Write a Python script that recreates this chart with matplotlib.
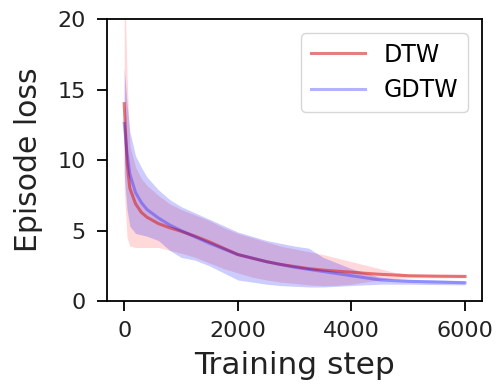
import matplotlib
matplotlib.use("Agg")
import matplotlib.pyplot as plt

steps = [0, 50, 100, 200, 300, 400, 600, 800, 1000, 1250, 1500, 1750, 2000, 2250,
         2500, 2750, 3000, 3250, 3500, 3750, 4000, 4250, 4500, 4750, 5000, 5500, 6000]

dtw_mean = [14.0, 9.8, 8.0, 6.9, 6.3, 5.95, 5.5, 5.2, 4.95, 4.6, 4.2, 3.75, 3.3, 3.05,
            2.8, 2.6, 2.45, 2.3, 2.2, 2.12, 2.05, 1.97, 1.9, 1.85, 1.8, 1.77, 1.75]
dtw_low = [8.0, 4.5, 3.9, 3.8, 3.8, 3.8, 3.8, 3.6, 3.4, 3.1, 2.7, 2.3, 2.0, 1.7,
           1.5, 1.35, 1.25, 1.15, 1.1, 1.12, 1.2, 1.35, 1.5, 1.6, 1.65, 1.65, 1.65]
dtw_high = [24.0, 16.0, 11.0, 9.5, 8.7, 8.2, 7.5, 6.9, 6.5, 6.1, 5.7, 5.2, 4.8, 4.5,
            4.2, 3.9, 3.7, 3.5, 3.3, 3.05, 2.8, 2.55, 2.3, 2.05, 1.9, 1.87, 1.85]

gdtw_mean = [12.6, 10.5, 9.0, 7.7, 7.0, 6.5, 5.9, 5.4, 5.0, 4.55, 4.1, 3.7, 3.3, 3.05,
             2.8, 2.6, 2.4, 2.25, 2.1, 1.95, 1.8, 1.65, 1.5, 1.45, 1.4, 1.35, 1.3]
gdtw_low = [9.0, 6.5, 5.3, 4.8, 4.7, 4.6, 4.3, 3.6, 3.1, 2.9, 2.5, 2.0, 1.5, 1.35,
            1.2, 1.1, 1.05, 1.0, 1.0, 1.05, 1.1, 1.15, 1.2, 1.2, 1.2, 1.17, 1.15]
gdtw_high = [16.5, 14.0, 12.0, 10.3, 9.5, 8.8, 7.9, 7.2, 6.7, 6.25, 5.8, 5.35, 4.9, 4.6,
             4.3, 4.1, 3.9, 3.75, 3.1, 2.7, 2.3, 2.0, 1.7, 1.6, 1.55, 1.5, 1.45]

fig = plt.figure(figsize=(4.96, 3.88), dpi=100)
ax = fig.add_axes([0.216, 0.224, 0.756, 0.727])

ax.fill_between(steps, dtw_low, dtw_high, color="red", alpha=0.15, linewidth=0)
ax.fill_between(steps, gdtw_low, gdtw_high, color="blue", alpha=0.2, linewidth=0)
ax.plot(steps, dtw_mean, color="tab:red", alpha=0.6, linewidth=2.2, label="DTW")
ax.plot(steps, gdtw_mean, color="blue", alpha=0.3, linewidth=2.2, label="GDTW")

ax.set_ylim(0, 20)
ax.set_yticks([0, 5, 10, 15, 20])
ax.set_xticks([0, 2000, 4000, 6000])
for s in ax.spines.values():
    s.set_linewidth(1.3)
ax.tick_params(labelsize=16, length=7, width=1.3, labelcolor="#222222")
ax.tick_params(axis="x", pad=7.5)
ax.tick_params(axis="y", pad=8.5)
ax.set_xlabel("Training step", fontsize=22.5, color="#222222", labelpad=7)
ax.set_ylabel("Episode loss", fontsize=21.5, color="#222222", labelpad=10)
ax.legend(loc="upper right", fontsize=17, handlelength=2.3, borderaxespad=0.6)

fig.savefig("out.png", dpi=100)
